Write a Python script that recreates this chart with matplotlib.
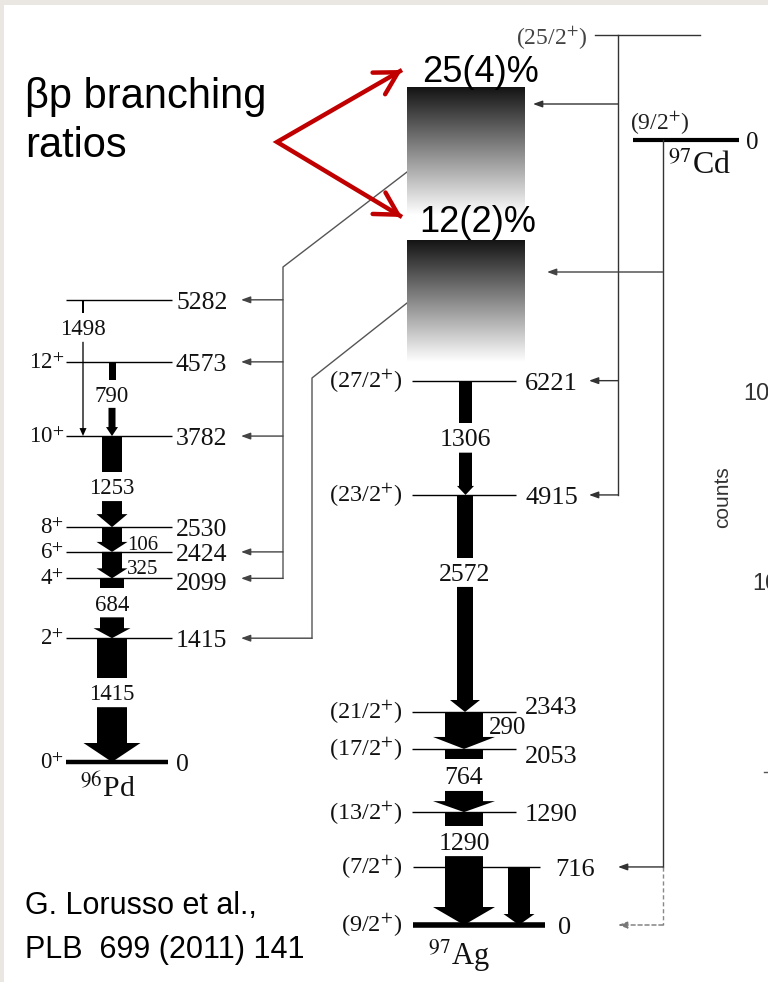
import numpy as np
import matplotlib
matplotlib.use('Agg')
import matplotlib.pyplot as plt
from matplotlib.patches import Polygon, Rectangle
from matplotlib.transforms import Affine2D
from matplotlib.colors import LinearSegmentedColormap

plt.rcParams['mathtext.fontset'] = 'stix'

# ---------------- data ----------------
pd_level_energies = [0, 1415, 2099, 2424, 2530, 3782, 4573, 5282]
pd_level_spins = ['0', '2', '4', '6', '8', '10', '12', '']
pd_fed_levels = [1415, 2099, 2424, 3782, 4573, 5282]
pd_gamma_from = [5282, 4573, 3782, 2530, 2424, 2099, 1415]
pd_gamma_to = [3782, 3782, 2530, 2424, 2099, 1415, 0]
pd_gamma_labels = ['1498', '790', '1253', '106', '325', '684', '1415']

ag_level_energies = [0, 716, 1290, 2053, 2343, 4915, 6221]
ag_level_spins = ['9/2', '7/2', '13/2', '17/2', '21/2', '23/2', '27/2']
ag_fed_from_isomer = [6221, 4915]
ag_fed_from_gs = [716]
ag_fed_tentative = [0]
ag_gamma_from = [6221, 4915, 2343, 2053, 1290, 716]
ag_gamma_to = [4915, 2343, 2053, 1290, 0, 0]
ag_gamma_labels = ['1306', '2572', '290', '764', '1290', '']

cd_isomer_spin = '25/2'
cd_gs_spin = '9/2'
cd_gs_energy = 0
bp_branching_labels = ['25(4)%', '12(2)%']

# ---------------- layout / style ----------------
SERIF = 'Liberation Serif'
SANS = 'Liberation Sans'
K = 0.0875            # px per keV
PD_BASE, AG_BASE = 762, 925
trans_pd = Affine2D().scale(1, -K).translate(0, PD_BASE)
trans_ag = Affine2D().scale(1, -K).translate(0, AG_BASE)
pd_nudge = {2530: -13.5, 3782: 5, 2424: 2}
ag_nudge = {716: 4.6, 2053: 3.6, 2343: -8}

# gamma style: x, shaft width, head width, head length, bar length, gap length (px)
pd_gamma_style = [(83, 1.3, 7, 8, 13, 29), (112, 7, 12, 9, 18, 28),
                  (112, 20, 31, 13, 36, 29), (112, 20, 31, 10, None, None),
                  (112, 20, 31, 10, None, None), (112, 24, 37, 10, 10, 29),
                  (112, 30, 57, 19, 40, 29)]
ag_gamma_style = [(465.5, 13, 17, 9, 42, 30), (465, 16, 30, 12, 63, 29),
                  (464, 38, 62, 12, None, None), (464, 38, 62, 11, 10, 32),
                  (464, 38, 62, 18, 14, 30), (519, 22, 31, 11, None, None)]


def ypd(E):
    return trans_pd.transform((0, E))[1] + pd_nudge.get(E, 0)


def yag(E):
    return trans_ag.transform((0, E))[1] + ag_nudge.get(E, 0)


fig = plt.figure(figsize=(7.68, 9.82), dpi=100)
fig.patch.set_facecolor('#EAE7E3')
ax = fig.add_axes([0, 0, 1, 1])
ax.axis('off')
ax.add_patch(Rectangle((4, 5), 770, 990, facecolor='white', edgecolor='none', zorder=0))


def label(x, y, s, size, ha='left', family=SERIF, color='#111111', **kw):
    px = size * 100 / 72
    ax.text(x, y + 0.34 * px, s, fontsize=size, ha=ha, va='baseline',
            family=family, color=color, **kw)


def arrow_poly(x, y_top, y_tip, sw, hw, hl, color='black'):
    hs, hh = sw / 2, hw / 2
    yh = y_tip - hl
    pts = [(x - hs, y_top), (x + hs, y_top), (x + hs, yh), (x + hh, yh),
           (x, y_tip), (x - hh, yh), (x - hs, yh)]
    ax.add_patch(Polygon(pts, closed=True, facecolor=color, edgecolor='none', zorder=3))


def draw_gamma(yfun, e_from, e_to, text, style, size):
    x, sw, hw, hl, bar, gap = style
    y0, y1 = yfun(e_from), yfun(e_to)
    if bar is None:
        arrow_poly(x, y0, y1, sw, hw, hl)
    else:
        ax.add_patch(Rectangle((x - sw / 2, y0), sw, bar, facecolor='black',
                               edgecolor='none', zorder=3))
        label(x, y0 + bar + gap / 2, text, size, ha='center')
        arrow_poly(x, y0 + bar + gap, y1, sw, hw, hl)


def feed(x_from, x_to, y, color='#444444', ls='-'):
    ax.annotate('', xy=(x_to, y), xytext=(x_from, y),
                arrowprops=dict(arrowstyle='-|>,head_length=0.55,head_width=0.2',
                                lw=1.0, color=color, shrinkA=0, shrinkB=0,
                                mutation_scale=10, linestyle=ls))


# ---------------- 96Pd ----------------
for E, sp in zip(pd_level_energies, pd_level_spins):
    y = ypd(E)
    if E == 0:
        ax.plot([66, 168], [y, y], color='black', lw=3.2, solid_capstyle='butt', zorder=2)
    else:
        ax.plot([66, 172], [y, y], color='black', lw=1.0, solid_capstyle='butt', zorder=2)
    off = {2099: 3}.get(E, 0)
    label(176, y + off, str(E), 18.5)
    if sp:
        label(64, y - 1, sp + r'$^{+}$', 16.5, ha='right')

for ef, et, t, st in zip(pd_gamma_from, pd_gamma_to, pd_gamma_labels, pd_gamma_style):
    draw_gamma(ypd, ef, et, t, st, 16.5)
label(127, (ypd(2530) + ypd(2424)) / 2 + 3, '106', 15)
label(127, (ypd(2424) + ypd(2099)) / 2 + 2, '325', 15)
label(80, 788, r'$^{96}$Pd', 21.5)

# feeding lines from proton-emitting states
ax.plot([407, 283, 283], [172, 267, ypd(2099)], color='#555555', lw=1.0, zorder=1)
ax.plot([407, 312, 312], [303, 378, ypd(1415)], color='#555555', lw=1.0, zorder=1)
for E in pd_fed_levels:
    xs = 312 if E == 1415 else 283
    feed(xs, 241, ypd(E), color='#444444')

# ---------------- 97Ag ----------------
ag_line_x = {0: (413, 545), 716: (413, 540)}
ag_lbl_x = {0: 558, 716: 555}
ag_lbl_dy = {2343: -7, 2053: 5}
for E, sp in zip(ag_level_energies, ag_level_spins):
    y = yag(E)
    x0, x1 = ag_line_x.get(E, (412, 516))
    ax.plot([x0, x1], [y, y], color='black', lw=4.0 if E == 0 else 1.0,
            solid_capstyle='butt', zorder=2)
    label(ag_lbl_x.get(E, 525), y + ag_lbl_dy.get(E, 0), str(E), 19)
    label(402, y - 1, '(' + sp + r'$^{+}$)', 17.5, ha='right')

for ef, et, t, st in zip(ag_gamma_from, ag_gamma_to, ag_gamma_labels, ag_gamma_style):
    draw_gamma(yag, ef, et, t, st, 18.5)
label(489, 725, '290', 18)
label(428, 955, r'$^{97}$Ag', 22)

# ---------------- proton-emitting regions ----------------
cmap = LinearSegmentedColormap.from_list('g', ['#141414', '#ffffff'])
grad = np.linspace(0, 1, 256).reshape(-1, 1)
ax.imshow(grad, extent=(407, 525, 215, 87), cmap=cmap, aspect='auto', zorder=1,
          interpolation='bilinear')
ax.imshow(grad, extent=(407, 525, 362, 240), cmap=cmap, aspect='auto', zorder=1,
          interpolation='bilinear')
ax.text(480, 82, bp_branching_labels[0], fontsize=26, family=SANS, ha='center',
        va='baseline', color='black', zorder=4)
ax.text(478, 232, bp_branching_labels[1], fontsize=26, family=SANS, ha='center',
        va='baseline', color='black', zorder=4)

# ---------------- 97Cd ----------------
CD = '#333333'
label(588, 37, '(' + cd_isomer_spin + r'$^{+}$)', 17, ha='right', color='#444444')
ax.plot([595, 700], [35, 35], color=CD, lw=1.0)
ax.plot([618, 618], [35, yag(4915)], color=CD, lw=1.0)
feed(618, 533, 104, color=CD)
for E in ag_fed_from_isomer:
    feed(618, 589, yag(E), color=CD)

label(630, 122, '(' + cd_gs_spin + r'$^{+}$)', 17, color='#222222')
ax.plot([633, 739], [140, 140], color='black', lw=3.0, solid_capstyle='butt')
label(746, 140, str(cd_gs_energy), 18)
label(668, 163, r'$^{97}$Cd', 23)
ax.plot([663, 663], [140, yag(716)], color=CD, lw=1.0)
feed(663, 547, 272, color='#444444')
for E in ag_fed_from_gs:
    feed(663, 618, yag(E), color=CD)
ax.plot([663, 663], [yag(716), yag(0)], color='#888888', lw=1.0, ls=(0, (3, 2)))
for E in ag_fed_tentative:
    feed(663, 618, yag(E), color='#777777', ls=(0, (3, 2)))

# ---------------- annotations ----------------
RED = '#C00000'
ax.plot([402, 277, 402], [70, 142, 217], color=RED, lw=3.2, solid_joinstyle='miter',
        solid_capstyle='butt', zorder=5)
for tip, tail in [((402, 70), (392, 75.8)), ((402, 217), (392, 211))]:
    ax.annotate('', xy=tip, xytext=tail,
                arrowprops=dict(arrowstyle='->,head_length=0.8,head_width=0.45',
                                lw=3.2, color=RED, shrinkA=0, shrinkB=0,
                                mutation_scale=20), zorder=5)

ax.text(25, 108, 'βp branching', fontsize=30, family=SANS, color='black')
ax.text(25, 157, 'ratios', fontsize=30, family=SANS, color='black')
ax.text(25, 914, 'G. Lorusso et al.,', fontsize=22, family=SANS, color='black')
ax.text(25, 958, 'PLB  699 (2011) 141', fontsize=22, family=SANS, color='black')

# neighbouring panel (cut off at the right edge, as in the reference)
ax.text(743, 400, '10', fontsize=17, family=SANS, color='#333333')
ax.text(752, 590, '10', fontsize=17, family=SANS, color='#333333')
ax.text(723, 497, 'counts', fontsize=15, family=SANS, color='#333333', rotation=90,
        ha='center', va='center')
ax.plot([764, 768], [772, 772], color='#555555', lw=1.0)

ax.set_xlim(0, 768)
ax.set_ylim(982, 0)
fig.savefig('out.png', dpi=100, facecolor=fig.get_facecolor())
